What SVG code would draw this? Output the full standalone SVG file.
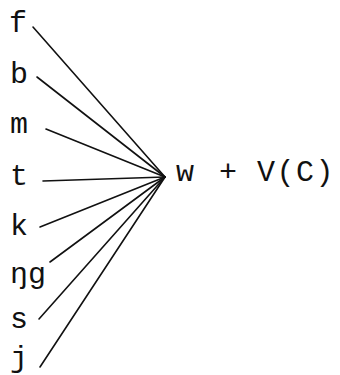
<svg xmlns="http://www.w3.org/2000/svg" width="340" height="375" viewBox="0 0 340 375">
<style>
.lbl{font-family:"Liberation Mono","DejaVu Sans Mono",monospace;font-size:30px;fill:#111}
.ln{stroke:#111;stroke-width:1.6;fill:none;stroke-linecap:round}
</style>
<rect width="340" height="375" fill="#fff"/>
<g id="connectors">
<line class="ln" x1="33" y1="27" x2="165" y2="177"/>
<line class="ln" x1="37" y1="77" x2="165" y2="177"/>
<line class="ln" x1="46" y1="129" x2="165" y2="177"/>
<line class="ln" x1="43" y1="181" x2="165" y2="177"/>
<line class="ln" x1="40" y1="227" x2="165" y2="177"/>
<line class="ln" x1="50" y1="262" x2="165" y2="177"/>
<line class="ln" x1="39" y1="319" x2="165" y2="177"/>
<line class="ln" x1="40" y1="367" x2="165" y2="177"/>
</g>
<g id="n-f"><text class="lbl" x="9" y="32">f</text></g>
<g id="n-b"><text class="lbl" x="10" y="83">b</text></g>
<g id="n-m"><text class="lbl" x="10" y="133">m</text></g>
<g id="n-t"><text class="lbl" x="10" y="185">t</text></g>
<g id="n-k"><text class="lbl" x="10" y="235">k</text></g>
<g id="n-ng"><text class="lbl" x="10" y="283">ŋg</text></g>
<g id="n-s"><text class="lbl" x="10" y="328">s</text></g>
<g id="n-j"><text class="lbl" x="10" y="367">j</text></g>
<g id="n-target"><text class="lbl" y="181"><tspan x="176">w </tspan><tspan x="219">+ </tspan><tspan x="257" letter-spacing="1.5">V(C)</tspan></text></g>
</svg>
